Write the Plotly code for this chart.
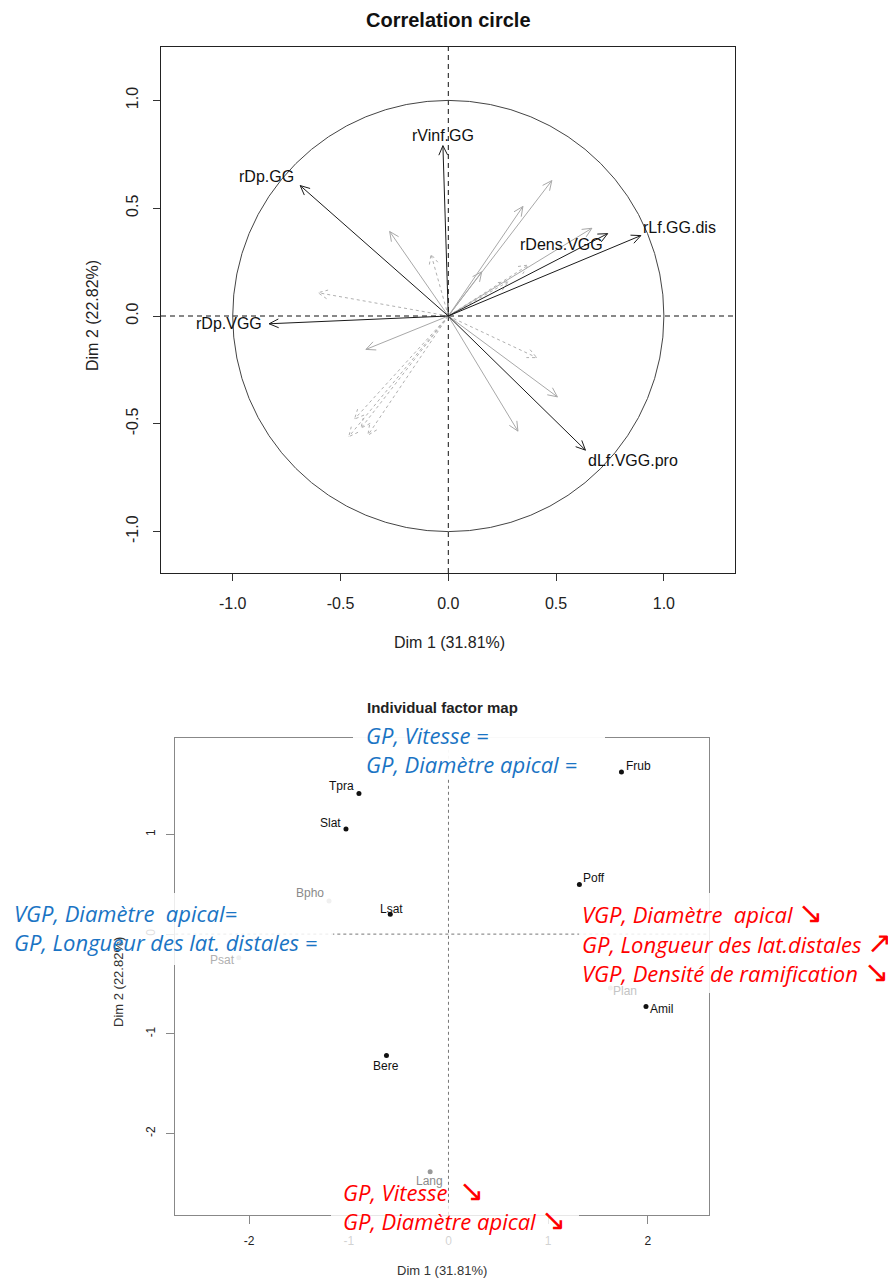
import math
import plotly.graph_objects as go

W, H = 896, 1278
OFF = 8  # browser body margin

# ---------------- data : correlation circle ----------------
var_names = ["rVinf.GG", "rDp.GG", "rDp.VGG", "rLf.GG.dis", "rDens.VGG", "dLf.VGG.pro"]
var_dim1 = [-0.025, -0.687, -0.831, 0.893, 0.739, 0.636]
var_dim2 = [0.790, 0.605, -0.036, 0.373, 0.382, -0.622]

# other (unlabelled) variables, grey solid arrows
grey_dim1 = [0.480, 0.346, 0.155, 0.666, -0.272, -0.382, 0.506, 0.323]
grey_dim2 = [0.628, 0.508, 0.205, 0.407, 0.392, -0.155, -0.375, -0.534]

# supplementary variables, grey dashed arrows
sup_dim1 = [-0.080, -0.604, 0.371, 0.278, 0.410, -0.462, -0.435, -0.373, -0.405]
sup_dim2 = [0.286, 0.108, 0.236, 0.159, -0.193, -0.560, -0.478, -0.553, -0.520]

circle_ticks = [-1.0, -0.5, 0.0, 0.5, 1.0]
circle_ticktext = ["-1.0", "-0.5", "0.0", "0.5", "1.0"]

# ---------------- data : individual factor map ----------------
ind_names = ["Frub", "Tpra", "Slat", "Poff", "Bpho", "Lsat", "Psat", "Plan", "Amil", "Bere", "Lang"]
ind_dim1 = [1.735, -0.898, -1.028, 1.313, -1.198, -0.584, -2.103, 1.624, 1.981, -0.622, -0.184]
ind_dim2 = [1.625, 1.411, 1.054, 0.498, 0.332, 0.200, -0.236, -0.540, -0.727, -1.218, -2.383]
ind_grey = [False, False, False, False, True, False, True, True, False, False, True]

ind_ticks_x = [-2, -1, 0, 1, 2]
ind_ticks_y = [-2, -1, 0, 1]

dim1_title = "Dim 1 (31.81%)"
dim2_title = "Dim 2 (22.82%)"

DOWN = "↘"
UP = "↗"
blue_top = ["GP, Vitesse =", "GP, Diamètre apical ="]
blue_left = ["VGP, Diamètre  apical=", "GP, Longueur des lat. distales ="]
red_right = [("VGP, Diamètre  apical ", DOWN), ("GP, Longueur des lat.distales ", UP),
             ("VGP, Densité de ramification ", DOWN)]
red_bottom = [("GP, Vitesse  ", DOWN), ("GP, Diamètre apical ", DOWN)]


def px(x):
    return (x - OFF) / W


def py(y):
    return 1 - (y - OFF) / H


def arrow_path(xs, ys, head=0.048, ang=math.radians(25)):
    ox, oy = [], []
    for x, y in zip(xs, ys):
        t = math.atan2(y, x)
        ox += [0, x, None,
               x - head * math.cos(t - ang), x, x - head * math.cos(t + ang), None]
        oy += [0, y, None,
               y - head * math.sin(t - ang), y, y - head * math.sin(t + ang), None]
    return ox, oy


fig = go.Figure()

gx, gy = arrow_path(grey_dim1, grey_dim2)
fig.add_trace(go.Scatter(x=gx, y=gy, mode="lines", line=dict(color="#a8a8a8", width=1),
                         xaxis="x", yaxis="y", hoverinfo="skip"))
sx, sy = arrow_path(sup_dim1, sup_dim2)
fig.add_trace(go.Scatter(x=sx, y=sy, mode="lines", line=dict(color="#b0b0b0", width=1, dash="3px,3px"),
                         xaxis="x", yaxis="y", hoverinfo="skip"))
bx, by = arrow_path(var_dim1, var_dim2)
fig.add_trace(go.Scatter(x=bx, y=by, mode="lines", line=dict(color="#1a1a1a", width=1),
                         xaxis="x", yaxis="y", hoverinfo="skip"))

fig.add_trace(go.Scatter(
    x=ind_dim1, y=ind_dim2, mode="markers",
    marker=dict(size=5, color=["#999999" if g else "#111111" for g in ind_grey]),
    xaxis="x2", yaxis="y2", hoverinfo="skip"))

annotations = []
shapes = []

ARIAL = "Liberation Sans, Arial"

var_off = {
    "rVinf.GG": (0, 10), "rDp.GG": (-34, 9), "rDp.VGG": (-40, 0),
    "rLf.GG.dis": (39, 8), "rDens.VGG": (-46, -11), "dLf.VGG.pro": (48, -10),
}
for n, x, y in zip(var_names, var_dim1, var_dim2):
    dx, dy = var_off[n]
    annotations.append(dict(x=x, y=y, xref="x", yref="y", text=n, showarrow=False,
                            xshift=dx, yshift=dy, xanchor="center", yanchor="middle",
                            font=dict(family=ARIAL, size=16, color="#111")))

ind_off = {
    "Frub": (17, 6), "Tpra": (-17, 7), "Slat": (-15, 6), "Poff": (15, 6),
    "Bpho": (-19, 8), "Lsat": (1, 5), "Psat": (-16, -2), "Plan": (15, -3),
    "Amil": (16, -2), "Bere": (0, -10), "Lang": (-1, -9),
}
faded = {"Plan": "#c4c4c4", "Psat": "#b0b0b0"}
for n, x, y, g in zip(ind_names, ind_dim1, ind_dim2, ind_grey):
    dx, dy = ind_off[n]
    col = faded.get(n, "#8a8a8a" if g else "#111")
    annotations.append(dict(x=x, y=y, xref="x2", yref="y2", text=n, showarrow=False,
                            xshift=dx, yshift=dy, xanchor="center", yanchor="middle",
                            font=dict(family=ARIAL, size=12, color=col)))


def center_text(text, x, y, size, color="#222", angle=0):
    annotations.append(dict(x=px(x), y=py(y), xref="paper", yref="paper", text=text,
                            textangle=angle, showarrow=False, xanchor="center", yanchor="middle",
                            font=dict(family=ARIAL, size=size, color=color)))


center_text("<b>Correlation circle</b>", 448, 20, 20, "#111")
center_text(dim1_title, 449, 643, 16)
center_text(dim2_title, 92, 316, 16, angle=-90)
center_text("<b>Individual factor map</b>", 442, 707, 15)
center_text(dim1_title, 442, 1270, 13, "#333")
center_text(dim2_title, 118, 982, 13, "#333", angle=-90)

for (x0, y0, x1, y1, op) in [(353, 717, 605, 777, 0.95), (0, 893, 333, 965, 0.85),
                             (579, 893, 896, 993, 0.85), (331, 1205, 579, 1250, 0.8)]:
    shapes.append(dict(type="rect", xref="paper", yref="paper", x0=px(x0), x1=px(x1),
                       y0=py(y1), y1=py(y0), fillcolor="white", opacity=op,
                       line=dict(width=0), layer="above"))


def add_lines(lines, x, ys, color):
    for t, y in zip(lines, ys):
        if isinstance(t, tuple):
            txt = ("<i>" + t[0] + "</i>" +
                   '<span style="font-size:30px">' + t[1] + "</span>")
            y = y - 3
        else:
            txt = "<i>" + t + "</i>"
        annotations.append(dict(x=px(x), y=py(y), xref="paper", yref="paper",
                                text=txt, showarrow=False,
                                xanchor="left", yanchor="middle",
                                font=dict(family="Open Sans", size=22, color=color)))


BLUE = "#1a74c4"
RED = "#ff0000"
add_lines(blue_top, 364, [735, 764], BLUE)
add_lines(blue_left, 12, [913, 942], BLUE)
add_lines(red_right, 580, [914, 944, 973], RED)
add_lines(red_bottom, 341, [1192, 1221], RED)

shapes.append(dict(type="circle", xref="x", yref="y", x0=-1, x1=1, y0=-1, y1=1,
                   line=dict(color="#444", width=1), layer="below"))
shapes.append(dict(type="line", xref="x", yref="y domain", x0=0, x1=0, y0=0, y1=1,
                   line=dict(color="#111", width=1, dash="5px,4px"), layer="below"))
shapes.append(dict(type="line", xref="x domain", yref="y", x0=0, x1=1, y0=0, y1=0,
                   line=dict(color="#111", width=1, dash="5px,4px"), layer="below"))
shapes.append(dict(type="line", xref="x2", yref="y2 domain", x0=0, x1=0, y0=0, y1=1,
                   line=dict(color="#777", width=1, dash="3px,3px"), layer="below"))
shapes.append(dict(type="line", xref="x2 domain", yref="y2", x0=0, x1=1, y0=0, y1=0,
                   line=dict(color="#777", width=1, dash="3px,3px"), layer="below"))

top_font = dict(family=ARIAL, size=16, color="#222")
bot_font = dict(family=ARIAL, size=12, color="#222")

fig.update_layout(
    width=W, height=H, margin=dict(l=0, r=0, t=0, b=0),
    paper_bgcolor="white", plot_bgcolor="white", showlegend=False,
    xaxis=dict(domain=[px(161), px(735)], range=[-1.3326, 1.3298], anchor="y",
               tickvals=circle_ticks, ticktext=circle_ticktext, ticks="outside", ticklen=7,
               tickcolor="#333", showline=True, linecolor="#222", mirror=True,
               showgrid=False, zeroline=False, tickfont=top_font, ticklabelstandoff=9),
    yaxis=dict(domain=[py(573), py(47)], range=[-1.192, 1.2477], anchor="x",
               tickvals=circle_ticks, ticktext=circle_ticktext, ticks="outside", ticklen=7,
               tickcolor="#333", showline=True, linecolor="#222", mirror=True, tickangle=-90,
               showgrid=False, zeroline=False, tickfont=top_font, ticklabelstandoff=9),
    xaxis2=dict(domain=[px(175.3), px(708.7)], range=[-2.74, 2.61], anchor="y2",
                tickvals=ind_ticks_x, ticktext=[str(v) for v in ind_ticks_x],
                ticks="outside", ticklen=8, tickcolor="#888", showline=True, linecolor="#888",
                mirror=True, showgrid=False, zeroline=False, tickfont=bot_font, ticklabelstandoff=7),
    yaxis2=dict(domain=[py(1214.8), py(737.6)], range=[-2.815, 1.971], anchor="x2",
                tickvals=ind_ticks_y, ticktext=[str(v) for v in ind_ticks_y],
                ticks="outside", ticklen=8, tickcolor="#888", showline=True, linecolor="#888",
                mirror=True, tickangle=-90, showgrid=False, zeroline=False, tickfont=bot_font,
                ticklabelstandoff=7),
    annotations=annotations, shapes=shapes,
)

fig.write_html("out.html")
